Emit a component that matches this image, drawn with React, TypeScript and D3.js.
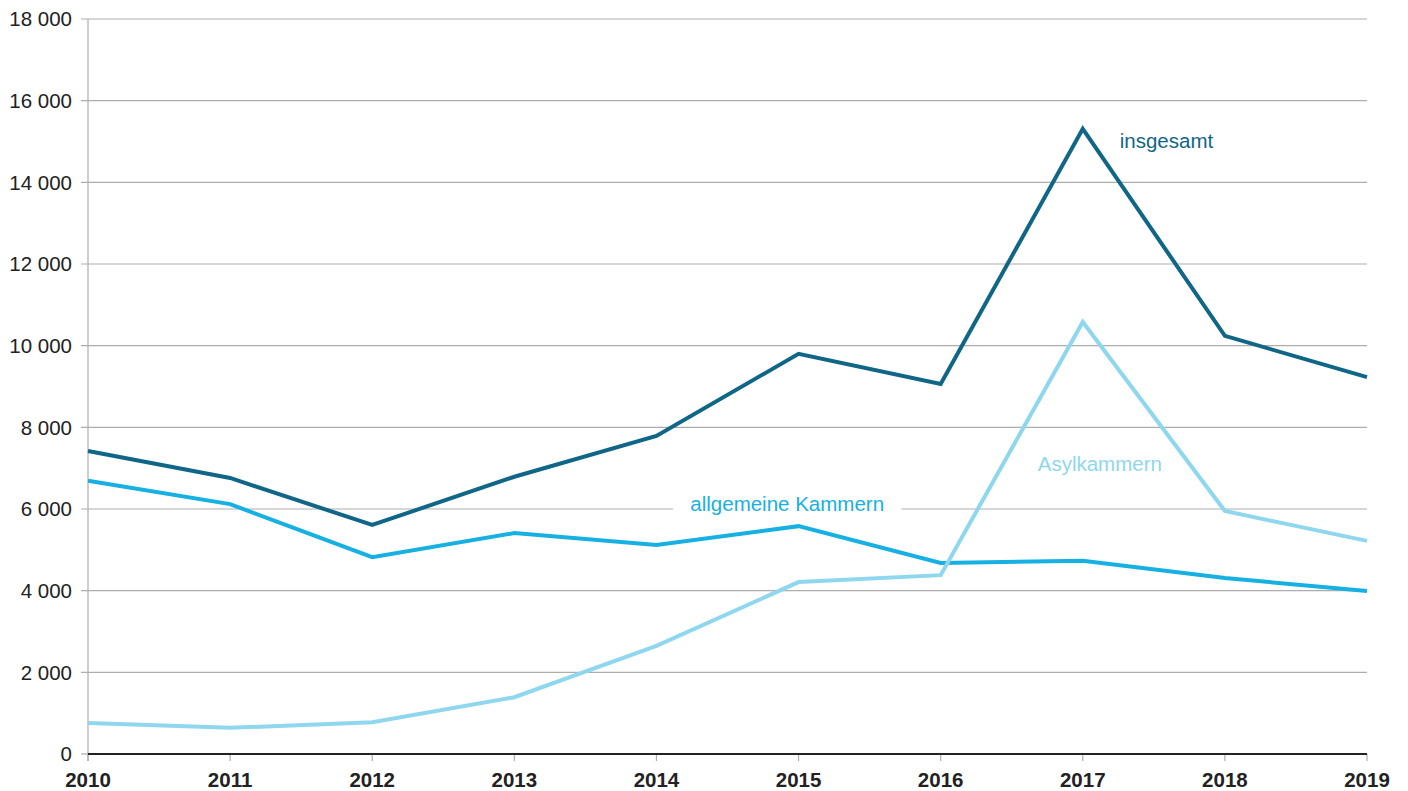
import * as d3 from "d3";

// values
const years = [2010, 2011, 2012, 2013, 2014, 2015, 2016, 2017, 2018, 2019];
const insgesamt = [7420, 6760, 5610, 6790, 7790, 9800, 9060, 15310, 10240, 9230];
const allgemeine = [6690, 6120, 4820, 5410, 5120, 5580, 4680, 4730, 4310, 3990];
const asyl = [760, 640, 780, 1390, 2650, 4210, 4380, 10580, 5950, 5220];
const yTicks = [0, 2000, 4000, 6000, 8000, 10000, 12000, 14000, 16000, 18000];

const W = 1408;
const H = 791;
const margin = { top: 19, right: 41, bottom: 37, left: 88 };

const x = d3.scaleLinear()
  .domain([2010, 2019])
  .range([margin.left, W - margin.right]);
const y = d3.scaleLinear()
  .domain([0, 18000])
  .range([H - margin.bottom, margin.top]);

const fmt = (v: number) => d3.format(",")(v).replace(/,/g, " ");

const line = d3.line<number>()
  .x((_, i) => x(years[i]))
  .y(d => y(d));

const series = [
  { name: "insgesamt", values: insgesamt, color: "#0f6687" },
  { name: "allgemeine Kammern", values: allgemeine, color: "#16b0e2" },
  { name: "Asylkammern", values: asyl, color: "#8ed7ee" },
];

// label positions (year, value) for the in-chart texts
const labels = [
  { text: "insgesamt", at: [2017.26, 15030], color: "#0f6687", anchor: "start", box: false },
  { text: "allgemeine Kammern", at: [2014.92, 6130], color: "#16b0e2", anchor: "middle", box: true },
  { text: "Asylkammern", at: [2017.12, 7110], color: "#8ed7ee", anchor: "middle", box: false },
];

const font = "'Liberation Sans', Arial, Helvetica, sans-serif";
const fs = 20.5;

export default function App() {
  const x0 = margin.left;
  const x1 = W - margin.right;
  return (
    <svg width={W} height={H} style={{ position: "absolute", left: 0, top: 0, background: "#fff" }}
      fontFamily={font}>
      {/* grid lines */}
      {yTicks.filter(t => t > 0).map(t => (
        <line key={t} x1={x0 - 7} x2={x1} y1={y(t)} y2={y(t)} stroke="#adadad" strokeWidth={1.2} />
      ))}
      <line x1={x0 - 7} x2={x0} y1={y(0)} y2={y(0)} stroke="#adadad" strokeWidth={1.2} />
      {/* y axis */}
      <line x1={x0} x2={x0} y1={y(18000)} y2={y(0) + 7} stroke="#adadad" strokeWidth={1.2} />
      {yTicks.map(t => (
        <text key={t} x={x0 - 16} y={y(t)} dy="0.36em" textAnchor="end" fontSize={fs} fill="#222">
          {fmt(t)}
        </text>
      ))}
      {/* x ticks */}
      {years.map(yr => (
        <g key={yr}>
          <line x1={x(yr)} x2={x(yr)} y1={y(0)} y2={y(0) + 7} stroke="#adadad" strokeWidth={1.2} />
          <text x={x(yr)} y={y(0) + 33} textAnchor="middle" fontSize={fs} fontWeight="bold" fill="#222">
            {yr}
          </text>
        </g>
      ))}
      {/* labels, with a white box over the grid where needed */}
      {labels.map(l => {
        const lx = x(l.at[0]);
        const ly = y(l.at[1]);
        const w = l.text.length * 11.25;
        return (
          <g key={l.text}>
            {l.box && (
              <rect x={lx - w / 2 - 13} y={ly - 14} width={w + 26} height={28} fill="#fff" />
            )}
            <text x={lx} y={ly} dy="0.36em" textAnchor={l.anchor} fontSize={fs} fill={l.color}>
              {l.text}
            </text>
          </g>
        );
      })}
      {/* series lines */}
      {series.map(s => (
        <path key={s.name} d={line(s.values) ?? ""} fill="none" stroke={s.color} strokeWidth={4} strokeLinejoin="miter" />
      ))}
      {/* baseline */}
      <line x1={x0} x2={x1} y1={y(0)} y2={y(0)} stroke="#222" strokeWidth={2.2} />
    </svg>
  );
}
